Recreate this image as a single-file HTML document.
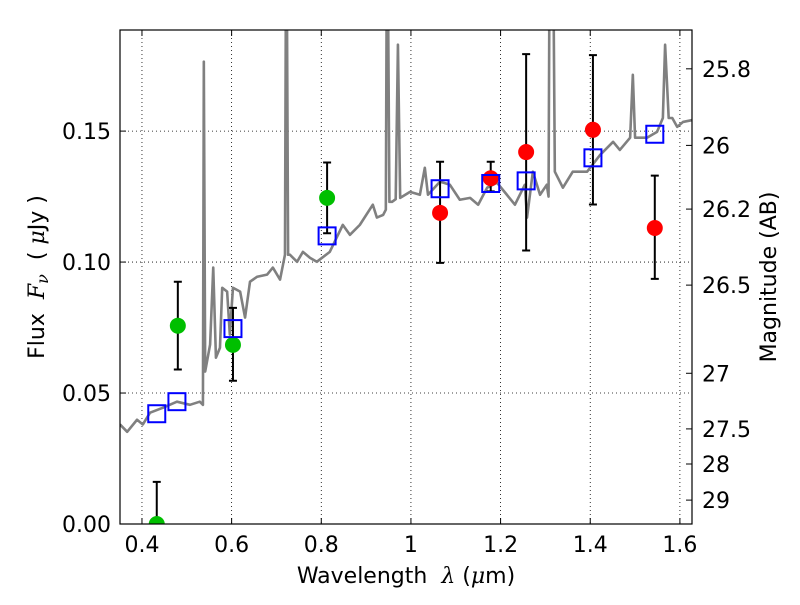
<!DOCTYPE html>
<html><head><meta charset="utf-8"><style>
body{margin:0;background:#fff}
svg text{font-family:"DejaVu Sans","Liberation Sans",sans-serif;font-size:22px;fill:#000;white-space:pre}
</style></head><body>
<svg id="chart" width="800" height="600" viewBox="0 0 800 600">
<defs><clipPath id="clip"><rect x="120" y="30" width="572" height="494"/></clipPath></defs>
<rect x="0" y="0" width="800" height="600" fill="#fff"/>
<g id="grid"></g>
<g id="spec" clip-path="url(#clip)"></g>
<g id="marks" clip-path="url(#clip)"></g>
<rect x="120" y="30" width="572" height="494" fill="none" stroke="#000" stroke-width="1.2"/>
<g id="axes"></g>
<text x="406" y="583" text-anchor="middle">Wavelength  <tspan font-style="italic" font-family="DejaVu Serif,serif">λ</tspan> (<tspan font-style="italic" font-family="DejaVu Serif,serif">μ</tspan>m)</text>
<text transform="translate(44,277) rotate(-90)" text-anchor="middle">Flux  <tspan font-style="italic" font-family="DejaVu Serif,serif">F</tspan><tspan font-style="italic" font-family="DejaVu Serif,serif" font-size="16" dy="4">ν</tspan><tspan dy="-4">  ( </tspan><tspan font-style="italic" font-family="DejaVu Serif,serif">μ</tspan>Jy )</text>
<text transform="translate(776,277) rotate(-90)" text-anchor="middle">Magnitude (AB)</text>
</svg>
<script>
const xTicks=[0.4,0.6,0.8,1.0,1.2,1.4,1.6];
const xTickLabels=["0.4","0.6","0.8","1","1.2","1.4","1.6"];
const yTicks=[0,0.05,0.10,0.15];
const yTickLabels=["0.00","0.05","0.10","0.15"];
const magTicks=[25.8,26,26.2,26.5,27,27.5,28,29];
const magTickLabels=["25.8","26","26.2","26.5","27","27.5","28","29"];
const specWave=[0.351,0.367,0.389,0.402,0.418,0.447,0.478,0.507,0.529,0.536,0.538,0.541,0.552,0.559,0.565,0.574,0.579,0.590,0.596,0.603,0.619,0.630,0.641,0.657,0.679,0.692,0.708,0.719,0.722,0.726,0.730,0.746,0.759,0.775,0.790,0.819,0.848,0.864,0.886,0.915,0.924,0.938,0.944,0.947,0.952,0.958,0.966,0.971,0.976,0.998,1.020,1.031,1.038,1.065,1.087,1.109,1.132,1.150,1.170,1.192,1.214,1.232,1.254,1.259,1.272,1.288,1.303,1.307,1.310,1.316,1.321,1.339,1.361,1.393,1.422,1.451,1.466,1.489,1.495,1.500,1.527,1.549,1.562,1.567,1.575,1.583,1.594,1.607,1.630];
const specFlux=[.038,.0352,.0398,.038,.0425,.0444,.0467,.0455,.0467,.0455,.1765,.0582,.0685,.0979,.0635,.0673,.0902,.0887,.0723,.0902,.0887,.0788,.0925,.0944,.0952,.0979,.0933,.1028,.25,.1028,.1028,.1001,.1039,.1016,.1001,.1039,.1142,.1104,.1142,.1219,.117,.118,.12,.25,.123,.123,.124,.183,.1245,.1268,.1257,.136,.1257,.1307,.1295,.1238,.1245,.1219,.1284,.1303,.1257,.1219,.1295,.117,.1345,.1257,.1295,.125,.25,.25,.1345,.1284,.1345,.1345,.1409,.1459,.1428,.1475,.1715,.1475,.1475,.1497,.155,.183,.155,.155,.1516,.1535,.1543];
const greenWave=[0.433,0.48,0.603,0.813];
const greenFlux=[0,0.0757,0.0684,0.1245];
const greenLo=[0,0.059,0.0547,0.111];
const greenHi=[0.0161,0.0925,0.0825,0.138];
const redWave=[1.065,1.178,1.257,1.406,1.544];
const redFlux=[0.1188,0.132,0.142,0.1505,0.113];
const redLo=[0.0997,0.127,0.1044,0.122,0.0936];
const redHi=[0.1383,0.1383,0.1794,0.179,0.133];
const modelWave=[0.433,0.478,0.603,0.813,1.065,1.178,1.257,1.406,1.544];
const modelFlux=[0.0421,0.0467,0.0746,0.110,0.128,0.130,0.131,0.1398,0.1488];

const X0=120,X1=692,Y0=524,Y1=30,xmin=0.351,xmax=1.627,ymin=0,ymax=0.1886;
const sx=v=>X0+(v-xmin)/(xmax-xmin)*(X1-X0);
const sy=v=>Y0-(v-ymin)/(ymax-ymin)*(Y0-Y1);
const magToFlux=m=>Math.pow(10,(23.9-m)/2.5);
const NS="http://www.w3.org/2000/svg";
function mk(tag,attrs,parent){const e=document.createElementNS(NS,tag);for(const k in attrs)e.setAttribute(k,attrs[k]);parent.appendChild(e);return e;}
const grid=document.getElementById('grid'),axes=document.getElementById('axes'),spec=document.getElementById('spec'),marks=document.getElementById('marks');
xTicks.forEach((v,i)=>{const x=sx(v);
 const g=mk('line',{x1:x,x2:x,y1:Y1,y2:Y0,stroke:'#000','stroke-width':0.8,'stroke-dasharray':'1,3'},grid);
 
 const t=mk('line',{x1:x,x2:x,y1:Y0,y2:Y0-6,stroke:'#000'},axes);
 
 mk('line',{x1:x,x2:x,y1:Y1,y2:Y1+6,stroke:'#000'},axes);
 const l=mk('text',{x:x,y:Y0+28,'text-anchor':'middle'},axes);l.textContent=xTickLabels[i];
 
});
yTicks.forEach((v,i)=>{const y=sy(v);
 const g=mk('line',{x1:X0,x2:X1,y1:y,y2:y,stroke:'#000','stroke-width':0.8,'stroke-dasharray':'1,3'},grid);
 
 const t=mk('line',{x1:X0,x2:X0+6,y1:y,y2:y,stroke:'#000'},axes);
 
 const l=mk('text',{x:X0-9,y:y+8,'text-anchor':'end'},axes);l.textContent=yTickLabels[i];
 
});
magTicks.forEach((m,i)=>{const y=sy(magToFlux(m));
 const t=mk('line',{x1:X1-6,x2:X1,y1:y,y2:y,stroke:'#000'},axes);
 
 const l=mk('text',{x:X1+10,y:y+8,'text-anchor':'start'},axes);l.textContent=magTickLabels[i];
 
});
const pl=mk('polyline',{points:specWave.map((w,i)=>sx(w)+','+sy(specFlux[i])).join(' '),fill:'none',stroke:'#808080','stroke-width':2.6,'stroke-linejoin':'round'},spec);

function errbar(w,lo,hi){const x=sx(w);
 const e=mk('path',{d:`M${x},${sy(lo)}V${sy(hi)}M${x-4},${sy(lo)}h8M${x-4},${sy(hi)}h8`,stroke:'#000','stroke-width':2,fill:'none'},marks);
 }
greenWave.forEach((w,i)=>errbar(w,greenLo[i],greenHi[i]));
redWave.forEach((w,i)=>errbar(w,redLo[i],redHi[i]));
greenWave.forEach((w,i)=>{const c=mk('circle',{cx:sx(w),cy:sy(greenFlux[i]),r:8,fill:'#00bf00'},marks);
 });
redWave.forEach((w,i)=>{const c=mk('circle',{cx:sx(w),cy:sy(redFlux[i]),r:8,fill:'#ff0000'},marks);
 });
modelWave.forEach((w,i)=>{const r=mk('rect',{x:sx(w)-8.5,y:sy(modelFlux[i])-8.5,width:17,height:17,fill:'none',stroke:'#0000ff','stroke-width':2},marks);
 });
</script>
</body></html>
